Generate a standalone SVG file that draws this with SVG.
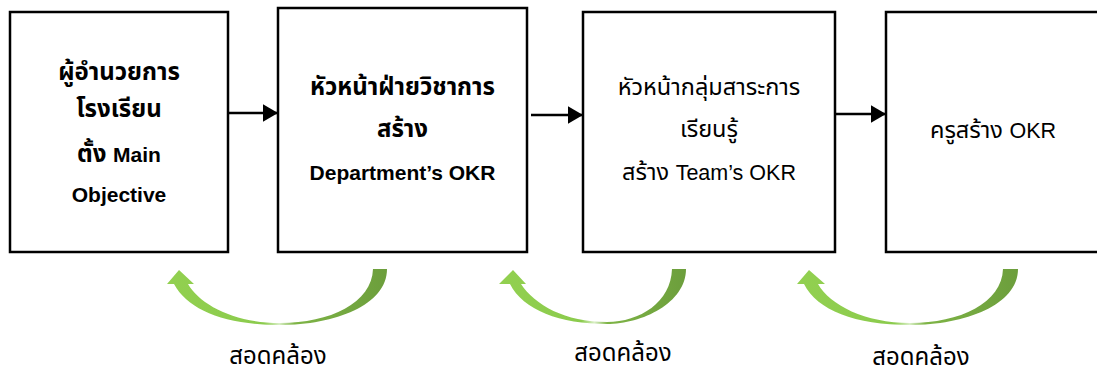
<svg xmlns="http://www.w3.org/2000/svg" width="1097" height="369" viewBox="0 0 1097 369">
<defs>
<style>
.box{fill:#fff;stroke:#000;stroke-width:2.5}
.tb{font-family:"Liberation Sans","Noto Sans Thai","Noto Sans",sans-serif;font-size:24px;font-weight:bold;fill:#000;text-anchor:middle}
.tr{font-family:"Liberation Sans","Noto Sans Thai","Noto Sans",sans-serif;font-size:23.5px;fill:#000;text-anchor:middle}
.lat{font-size:21px}
.latr{font-size:21.5px}
.lbl{font-family:"Liberation Sans","Noto Sans Thai","Noto Sans",sans-serif;font-size:24px;fill:#000;text-anchor:middle}
.conn{stroke:#000;stroke-width:2.5;fill:none}
.arc{fill:url(#g)}
</style>
<marker id="ah" markerWidth="6" markerHeight="7" refX="5.6" refY="3.5" orient="auto" markerUnits="strokeWidth">
<path d="M0,0 L6,3.5 L0,7 Z" fill="#000"/>
</marker>
<linearGradient id="g" x1="0" y1="0" x2="1" y2="0">
<stop offset="0" stop-color="#92D050"/>
<stop offset="0.44" stop-color="#8BCB4D"/>
<stop offset="0.51" stop-color="#D9EFC6"/>
<stop offset="0.58" stop-color="#7EB446"/>
<stop offset="1" stop-color="#6C9E3C"/>
</linearGradient>
</defs>
<rect width="1097" height="369" fill="#fff"/>

<g id="node1">
<rect class="box" x="10" y="12" width="218" height="240"/>
<text class="tb" x="119" y="80">ผู้อำนวยการ</text>
<text class="tb" x="119" y="117">โรงเรียน</text>
<text class="tb" x="119" y="162">ตั้ง <tspan class="lat">Main</tspan></text>
<text class="tb lat" x="119" y="202">Objective</text>
</g>
<g id="node2">
<rect class="box" x="278" y="8" width="249" height="244"/>
<text class="tb" x="402.5" y="95">หัวหน้าฝ่ายวิชาการ</text>
<text class="tb" x="402.5" y="137">สร้าง</text>
<text class="tb lat" x="402.5" y="180">Department’s OKR</text>
</g>
<g id="node3">
<rect class="box" x="583" y="12" width="252" height="240"/>
<text class="tr" x="709" y="95">หัวหน้ากลุ่มสาระการ</text>
<text class="tr" x="709" y="137">เรียนรู้</text>
<text class="tr" x="709" y="180">สร้าง <tspan class="latr">Team’s OKR</tspan></text>
</g>
<g id="node4">
<rect class="box" x="886" y="12" width="215" height="240"/>
<text class="tr" x="993" y="138">ครูสร้าง <tspan class="latr">OKR</tspan></text>
</g>

<g id="connectors">
<line class="conn" x1="229" y1="113" x2="277" y2="113" marker-end="url(#ah)"/>
<line class="conn" x1="531" y1="115" x2="582" y2="115" marker-end="url(#ah)"/>
<line class="conn" x1="836" y1="114" x2="885" y2="114" marker-end="url(#ah)"/>

<path class="arc" d="M373 269 L387 269 C387 305 335 325 280 325 C225 325 188 310 174 284 L167 284 L179 270 L194 284 L188 284 C200 305 235 323 280 323 C330 323 372 303 373 269 Z"/>
<path class="arc" d="M672 269 L686 269 C686 303 642 324 607 324 C560 324 523 310 510 284 L499 284 L513 270 L526 284 L521 284 C535 305 565 322 607 322 C640 322 671 302 672 269 Z"/>
<path class="arc" d="M1003 269 L1018 269 C1018 305 965 325 910 325 C855 325 817 310 804 284 L797 284 L809 270 L825 284 L818 284 C830 305 865 323 910 323 C960 323 1002 303 1003 269 Z"/>
<text class="lbl" x="278" y="364">สอดคล้อง</text>
<text class="lbl" x="623" y="361">สอดคล้อง</text>
<text class="lbl" x="921" y="365">สอดคล้อง</text>
</g>
</svg>
